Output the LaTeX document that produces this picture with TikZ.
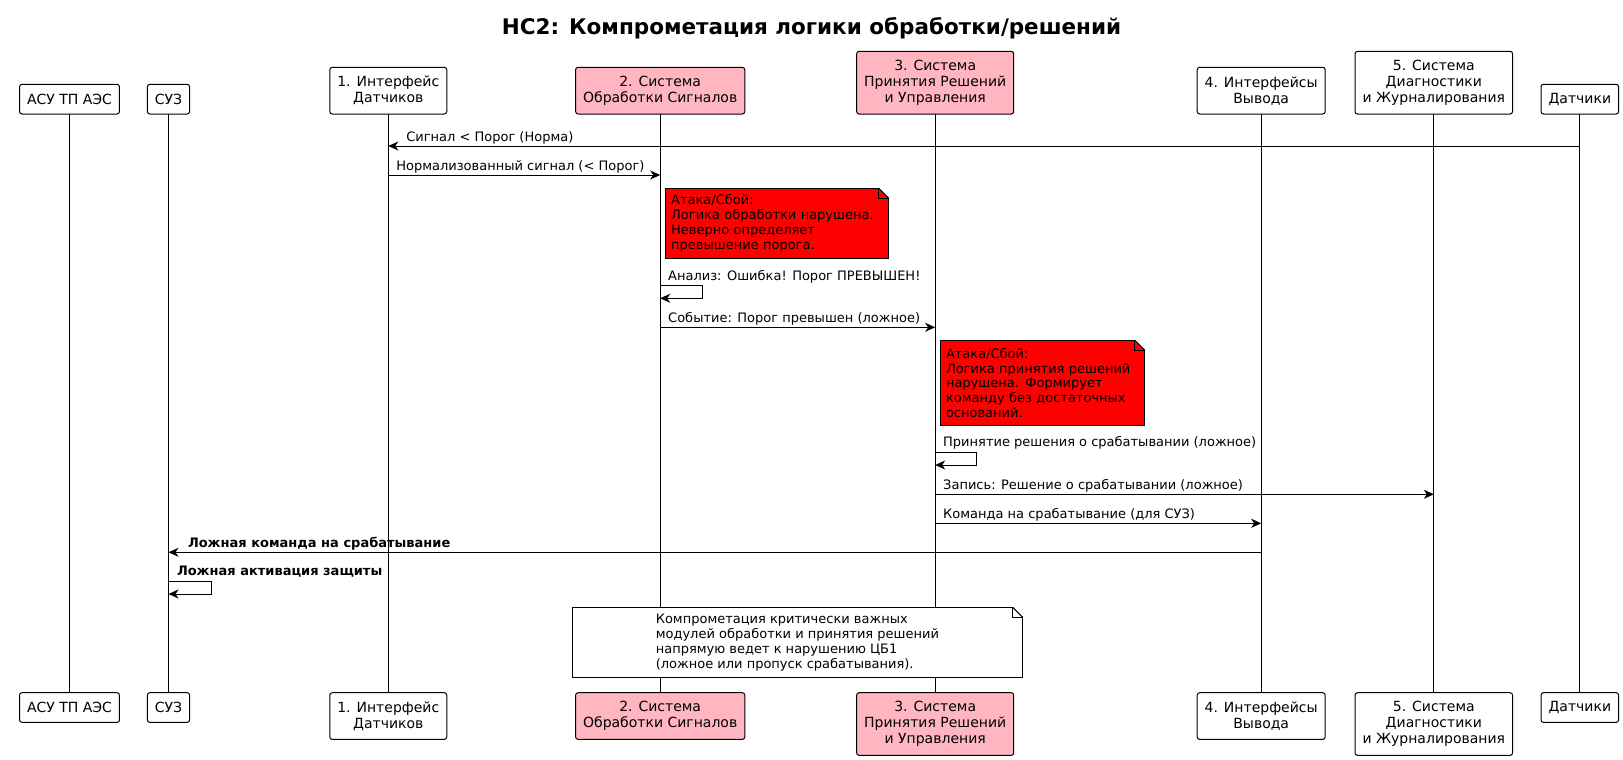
\documentclass[tikz,border=0pt]{standalone}
\usepackage{fontspec}
\setmainfont{DejaVu Sans}
\usetikzlibrary{positioning,calc}
\usetikzlibrary{arrows.meta}
\definecolor{HotPink}{RGB}{255,182,193}
\definecolor{AlertRed}{RGB}{255,0,0}
\tikzset{
  part/.style={draw=black,fill=white,rounded corners=2.5pt,inner xsep=7.5pt,inner ysep=0pt,outer sep=0pt,
    align=center,line width=1pt,font=\fontsize{14}{16}\selectfont},
  hot/.style={part,fill=HotPink},
  oneline/.style={minimum height=29.7pt}, twoline/.style={minimum height=46.7pt}, threeline/.style={minimum height=62.7pt},
  life/.style={draw=black,line width=1pt},
  msg/.style={draw=black,line width=1pt,-{Stealth[length=10pt,width=9pt,inset=3pt]}},
  lbl/.style={inner sep=0pt,anchor=base west,font=\fontsize{13}{14.9}\selectfont},
}
\tikzset{note/.style={draw=black,fill=AlertRed,line width=1pt,inner sep=6pt,outer sep=0pt,align=left,anchor=north west,
    font=\fontsize{13}{14.9}\selectfont}, plainnote/.style={note,fill=white}}
\newcommand{\noteear}[1]{%
  \fill[white] ([xshift=-10pt,yshift=0.8pt]#1.north east) -- ([xshift=0.8pt,yshift=0.8pt]#1.north east) -- ([xshift=0.8pt,yshift=-10pt]#1.north east) -- cycle;
  \draw[line width=1pt] ([xshift=-10pt]#1.north east) -- ([yshift=-10pt]#1.north east);
  \draw[line width=1pt] ([xshift=-10pt]#1.north east) |- ([yshift=-10pt]#1.north east);}

\begin{document}
\begin{tikzpicture}[x=1pt,y=-1pt]
\useasboundingbox (0,0) rectangle (1623,760);
\node[anchor=base,font=\bfseries\fontsize{21.5}{25}\selectfont](title) at (811.5,35){НС2: Компрометация логики обработки/решений};
% participants, top row
\node[part,oneline,anchor=south](asu) at (69.5,114){АСУ ТП АЭС};\node[part,oneline,anchor=south](suz) at (168.5,114){СУЗ};
\node[part,twoline,anchor=south](ifd) at (388.3,114){1. Интерфейс\\Датчиков};\node[hot,twoline,anchor=south](sos) at (660.2,114){2. Система\\Обработки Сигналов};
\node[hot,threeline,anchor=south](spr) at (935.2,114){3. Система\\Принятия Решений\\и Управления};
\node[part,twoline,anchor=south](ivy) at (1261.2,114){4. Интерфейсы\\Вывода};
\node[part,threeline,anchor=south](sdj) at (1433.8,114){5. Система\\Диагностики\\и Журналирования};
\node[part,oneline,anchor=south](dat) at (1579.8,114){Датчики};
% participants, bottom row
\node[part,oneline,anchor=north](asu-b) at (69.5,692.7){АСУ ТП АЭС};\node[part,oneline,anchor=north](suz-b) at (168.5,692.7){СУЗ};
\node[part,twoline,anchor=north](ifd-b) at (388.3,692.7){1. Интерфейс\\Датчиков};\node[hot,twoline,anchor=north](sos-b) at (660.2,692.7){2. Система\\Обработки Сигналов};
\node[hot,threeline,anchor=north](spr-b) at (935.2,692.7){3. Система\\Принятия Решений\\и Управления};
\node[part,twoline,anchor=north](ivy-b) at (1261.2,692.7){4. Интерфейсы\\Вывода};
\node[part,threeline,anchor=north](sdj-b) at (1433.8,692.7){5. Система\\Диагностики\\и Журналирования};
\node[part,oneline,anchor=north](dat-b) at (1579.8,692.7){Датчики};
% lifelines
\draw[life] (asu)--(asu-b);\draw[life] (suz)--(suz-b);\draw[life] (ifd)--(ifd-b);\draw[life] (sos)--(sos-b);
\draw[life] (spr)--(spr-b);\draw[life] (ivy)--(ivy-b);\draw[life] (sdj)--(sdj-b);\draw[life] (dat)--(dat-b);
% messages
\coordinate (m1) at (0,146);\coordinate (m2) at (0,175);
\draw[msg] (dat|-m1) -- (ifd|-m1) node[lbl,xshift=17.5pt,yshift=5pt]{Сигнал < Порог (Норма)};
\draw[msg] (ifd|-m2) node[lbl,xshift=7.5pt,yshift=5pt]{Нормализованный сигнал (< Порог)} -- (sos|-m2);
\node[note,text width=211.5pt,minimum height=70.4pt](n1) at (665.2,188.3){Атака/Сбой:\\Логика обработки нарушена.\\Неверно определяет\\превышение порога.};\noteear{n1}
\coordinate (s1) at (0,285.7);\coordinate (s1b) at (0,298.3);
\draw[msg] (sos|-s1) node[lbl,xshift=7.5pt,yshift=5.5pt]{Анализ: Ошибка! Порог ПРЕВЫШЕН!} -- ++(42.5,0) |- (sos|-s1b);
\coordinate (m5) at (0,327.3);
\draw[msg] (sos|-m5) node[lbl,xshift=7.5pt,yshift=5pt]{Событие: Порог превышен (ложное)} -- (spr|-m5);
\node[note,text width=192.8pt,minimum height=85.4pt](n2) at (940,340.3){Атака/Сбой:\\Логика принятия решений\\нарушена. Формирует\\команду без достаточных\\оснований.};\noteear{n2}
\coordinate (s2) at (0,452.3);\coordinate (s2b) at (0,465);
\draw[msg] (spr|-s2) node[lbl,xshift=7.5pt,yshift=5.5pt]{Принятие решения о срабатывании (ложное)} -- ++(41.6,0) |- (spr|-s2b);
\coordinate (m8) at (0,494.3);\coordinate (m9) at (0,523.3);\coordinate (m10) at (0,552.3);
\draw[msg] (spr|-m8) node[lbl,xshift=7.5pt,yshift=5pt]{Запись: Решение о срабатывании (ложное)} -- (sdj|-m8);
\draw[msg] (spr|-m9) node[lbl,xshift=7.5pt,yshift=5pt]{Команда на срабатывание (для СУЗ)} -- (ivy|-m9);
\draw[msg] (ivy|-m10) -- (suz|-m10) node[lbl,xshift=19pt,yshift=5pt,font=\bfseries\fontsize{13}{14.9}\selectfont]{Ложная команда на срабатывание};
\coordinate (s3) at (0,581.3);\coordinate (s3b) at (0,594);
\draw[msg] (suz|-s3) node[lbl,xshift=8pt,yshift=5.5pt,font=\bfseries\fontsize{13}{14.9}\selectfont]{Ложная активация защиты} -- ++(42.5,0) |- (suz|-s3b);
\node[plainnote,minimum width=450.7pt,minimum height=70pt](n3) at (572,607.3){Компрометация критически важных\\модулей обработки и принятия решений\\напрямую ведет к нарушению ЦБ1\\(ложное или пропуск срабатывания).};\noteear{n3}
\end{tikzpicture}
\end{document}
